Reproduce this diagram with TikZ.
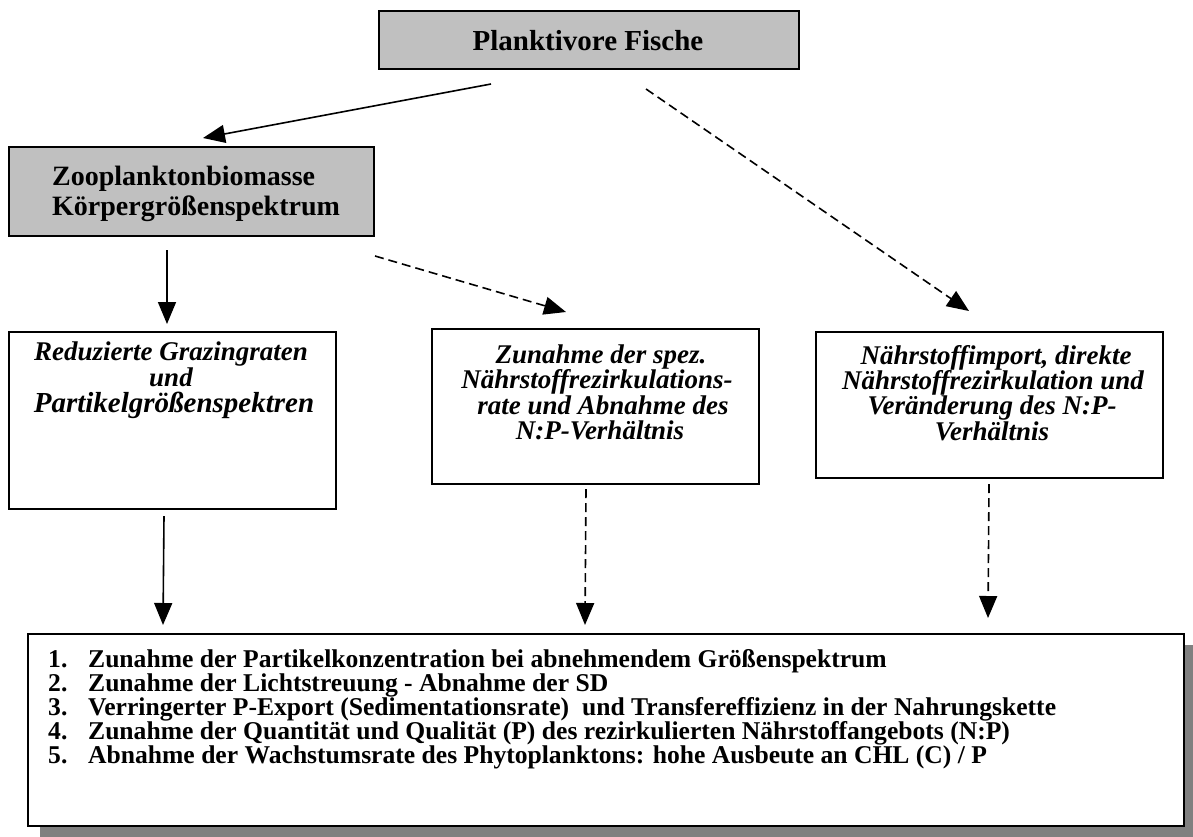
\documentclass[tikz,border=0pt]{standalone}
\usepackage{fontspec}
\setmainfont{Liberation Serif}
\usetikzlibrary{arrows.meta,shadows}
\definecolor{boxgray}{HTML}{C0C0C0}
\definecolor{shadowgray}{HTML}{808080}
\begin{document}
\begin{tikzpicture}[x=1pt,y=-1pt,
  box/.style={draw=black,line width=2pt,inner sep=0pt,anchor=north west,fill=white},
  graybox/.style={box,fill=boxgray},
  ln/.style={inner sep=0pt,anchor=base,font=\bfseries\itshape\fontsize{27}{29}\selectfont},
  hd/.style={inner sep=0pt,anchor=base west,font=\bfseries\fontsize{28}{30}\selectfont},
  li/.style={inner sep=0pt,anchor=base west,font=\bfseries\fontsize{25.6}{24}\selectfont},
  arr/.style={line width=1.6pt,-{Triangle[length=22pt,width=18pt]}},
  darr/.style={arr,dash pattern=on 9pt off 5pt}]
\useasboundingbox (0,0) rectangle (1193,836);

% boxes
\node[graybox,minimum width=420pt,minimum height=58pt] (top) at (378,10) {};
\node[graybox,minimum width=365pt,minimum height=89pt] (zoo) at (8,146) {};
\node[box,minimum width=327pt,minimum height=177pt] (b1) at (8,331) {};
\node[box,minimum width=327pt,minimum height=155pt] (b2) at (431,328) {};
\node[box,minimum width=347pt,minimum height=146pt] (b3) at (815,331) {};
\node[box,minimum width=1156pt,minimum height=192pt,
  drop shadow={shadow xshift=12pt,shadow yshift=-11pt,fill=shadowgray,opacity=1}] (res) at (27,633) {};

% texts
\node[inner sep=0pt,anchor=base,font=\bfseries\fontsize{29}{31}\selectfont] (ttop) at (588,50) {Planktivore Fische};
\node[hd] (z1) at (52,185) {Zooplanktonbiomasse};
\node[hd] (z2) at (52,215) {Körpergrößenspektrum};

\node[ln] (r1) at (171,360) {Reduzierte Grazingraten};
\node[ln] (r2) at (171,386) {und};
\node[ln,font=\bfseries\itshape\fontsize{29}{31}\selectfont] (r3) at (174,412) {Partikelgrößenspektren};

\node[ln] (s1) at (601,363) {Zunahme der spez.};
\node[ln] (s2) at (597,388) {Nährstoffrezirkulations-};
\node[ln] (s3) at (603,414) {rate und Abnahme des};
\node[ln] (s4) at (600,439) {N:P-Verhältnis};

\node[ln] (n1) at (996,364) {Nährstoffimport, direkte};
\node[ln] (n2) at (993,389) {Nährstoffrezirkulation und};
\node[ln] (n3) at (992,414) {Veränderung des N:P-};
\node[ln] (n4) at (992,440) {Verhältnis};

\node[li] (l1) at (48,667) {\makebox[40pt][l]{1.}Zunahme der Partikelkonzentration bei abnehmendem Größenspektrum};
\node[li] (l2) at (48,691) {\makebox[40pt][l]{2.}Zunahme der Lichtstreuung - Abnahme der SD};
\node[li] (l3) at (48,715) {\makebox[40pt][l]{3.}Verringerter P-Export (Sedimentationsrate)\ \ und Transfereffizienz in der Nahrungskette};
\node[li] (l4) at (48,739) {\makebox[40pt][l]{4.}Zunahme der Quantität und Qualität (P) des rezirkulierten Nährstoffangebots (N:P)};
\node[li] (l5) at (48,763) {\makebox[40pt][l]{5.}Abnahme der Wachstumsrate des Phytoplanktons: hohe Ausbeute an CHL (C) / P};

% connectors
\draw[arr]  ([shift={(-98,14)}]top.south) -- ([shift={(11.5,-8)}]zoo.north);
\draw[darr] ([shift={(57,19)}]top.south) -- ([shift={(-20.5,-20)}]b3.north);
\draw[arr]  ([shift={(-24.5,13)}]zoo.south) -- ([shift={(-5.5,-7)}]b1.north);
\draw[darr] ([shift={(0,19)}]zoo.south east) -- ([shift={(-29.5,-16)}]b2.north);
\draw[arr]  ([shift={(-8.5,6)}]b1.south) -- ([shift={(136,-8)}]res.north west);
\draw[darr] ([shift={(-9.5,4)}]b2.south) -- ([shift={(558,-8)}]res.north west);
\draw[darr] ([shift={(-0.5,5)}]b3.south) -- ([shift={(961,-15)}]res.north west);
\end{tikzpicture}
\end{document}
